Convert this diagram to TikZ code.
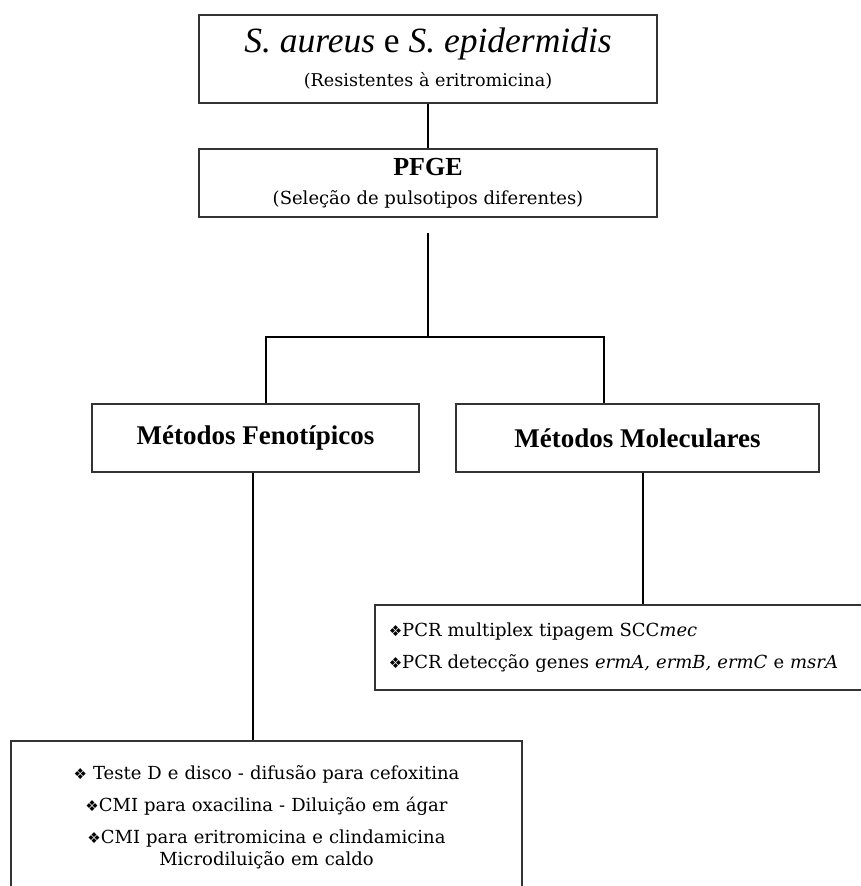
\documentclass[tikz,border=0pt]{standalone}
\usepackage{fontspec}
\setmainfont{DejaVu Serif}
\newfontfamily\lib{Liberation Serif}
\newfontfamily\dejavu{DejaVu Sans}
\newcommand{\bul}{{\dejavu\fontsize{15}{15}\selectfont ❖}}
\begin{document}
\begin{tikzpicture}[x=1pt,y=-1pt,
  box/.style={draw=black!80,line width=1.5pt,inner sep=0pt,align=center},
  conn/.style={draw=black,line width=1.5pt}]
\useasboundingbox (0,0) rectangle (860,886);
\fill[white] (0,0) rectangle (860,886);

\node[box,minimum width=458pt,minimum height=88pt,font=\fontsize{17.6}{34}\selectfont] (top) at (428,59)
  {{\lib\fontsize{35.5}{36}\selectfont\itshape S. aureus \upshape e \itshape S. epidermidis}\\
   (Resistentes à eritromicina)};

\node[box,minimum width=458pt,minimum height=68pt,font=\fontsize{18}{29}\selectfont] (pfge) at (428,183)
  {{\lib\fontsize{26}{27}\selectfont\bfseries PFGE}\\
   (Seleção de pulsotipos diferentes)};

\node[box,minimum width=327pt,minimum height=68pt,font=\lib\fontsize{27}{29}\selectfont\bfseries] (fen) at (255.5,438) {Métodos Fenotípicos};
\node[box,minimum width=363pt,minimum height=68pt,font=\lib\fontsize{27}{29}\selectfont\bfseries] (mol) at (637.5,438) {Métodos Moleculares};

\node[box,anchor=west,minimum height=85pt,text width=478pt,inner xsep=14pt,align=left,
  font=\fontsize{18}{32}\selectfont] (pcr) at (374,647.5)
  {\bul PCR multiplex tipagem SCC\textit{mec}\\
   \bul PCR detecção genes \textit{ermA, ermB, ermC} e \textit{msrA}};

\node[box,anchor=north,text width=511pt,inner xsep=0pt,inner ysep=25pt,
  font=\fontsize{18}{22}\selectfont] (bot) at (266.5,740)
  {\bul\ Teste D e disco - difusão para cefoxitina\\[10pt]
   \bul CMI para oxacilina - Diluição em ágar\\[10pt]
   \bul CMI para eritromicina e clindamicina\\
   Microdiluição em caldo};

\coordinate (jl) at (266,337);
\coordinate (jm) at (428,337);
\coordinate (jr) at (604,337);

\draw[conn] (top) -- (pfge);
\draw[conn,shorten <=15pt] (pfge.south) -- (jm);
\draw[conn] (jl |- fen.north) -- (jl) -- (jr) -- (jr |- mol.north);
\draw[conn] ([xshift=-2.5pt]fen.south) -- ([xshift=-2.5pt]fen.south |- bot.north);
\draw[conn] ([xshift=5.5pt]mol.south) -- ([xshift=5.5pt]mol.south |- pcr.north);
\end{tikzpicture}
\end{document}
